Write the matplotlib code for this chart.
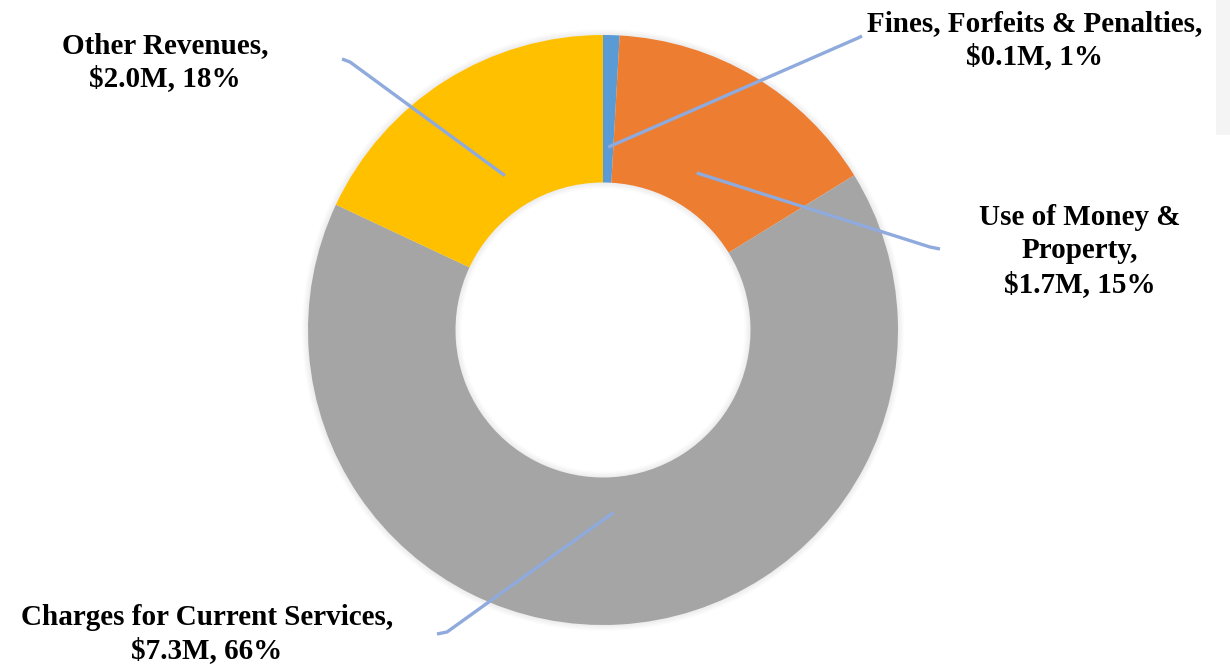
import numpy as np
import matplotlib.pyplot as plt
from matplotlib.patches import Rectangle, Wedge

labels = ["Fines, Forfeits & Penalties,\n$0.1M, 1%",
          "Use of Money &\nProperty,\n$1.7M, 15%",
          "Charges for Current Services,\n$7.3M, 66%",
          "Other Revenues,\n$2.0M, 18%"]
values = [0.1, 1.7, 7.3, 2.0]
colors = ["#5B9BD5", "#ED7D31", "#A5A5A5", "#FFC000"]

# label centres and leader elbows, in pixel coords (y down)
label_pos = [(1035, 40), (1080, 251), (207, 634), (165, 62)]
elbows = [[(858, 38), (862, 36)],
          [(930, 247), (940, 249)],
          [(447, 632), (437, 634)],
          [(350, 62), (342, 59)]]

W, H = 1230, 666
CX, CY, R = 603, 330, 295

fig = plt.figure(figsize=(12.3, 6.66), dpi=100)
ax = fig.add_axes([0, 0, 1, 1])

# faint strip at top right
ax.add_patch(Rectangle((1216, H - 135), 20, 135, color="#f4f4f4", lw=0))

# soft shadow round the ring (ring shaped, hole stays white)
for i in range(6):
    ax.add_patch(Wedge((CX, H - CY), R + 6 - i, 0, 360, width=R * 0.5 + 12 - 2 * i,
                       color="#000000", alpha=0.012, lw=0))

wedges, _ = ax.pie(values, colors=colors, startangle=90, counterclock=False,
                   radius=R, center=(CX, H - CY),
                   wedgeprops=dict(width=R * 0.5, linewidth=0), frame=True)
ax.set_xlim(0, W)
ax.set_ylim(0, H)
ax.set_aspect("equal")
ax.axis("off")

for w, lab, lp, el in zip(wedges, labels, label_pos, elbows):
    ang = np.deg2rad((w.theta1 + w.theta2) / 2)
    x0 = CX + 0.62 * R * np.cos(ang)
    y0 = (H - CY) + 0.62 * R * np.sin(ang)
    xs = [x0] + [p[0] for p in el]
    ys = [y0] + [H - p[1] for p in el]
    ax.plot(xs, ys, color="#8FAADC", lw=2.4, solid_capstyle="butt", zorder=5)
    ax.text(lp[0], H - lp[1], lab, ha="center", va="center",
            fontsize=21, fontweight="bold", family="Liberation Serif",
            linespacing=1.3, color="#000000")

fig.savefig("out.png", dpi=100)
